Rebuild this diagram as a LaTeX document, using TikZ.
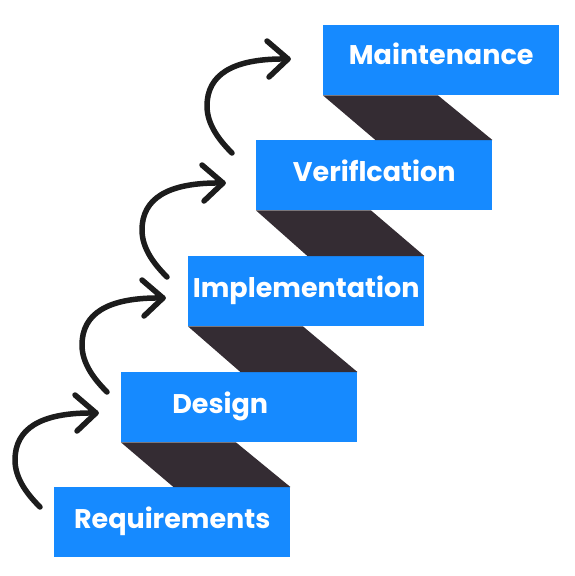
\documentclass[tikz,border=0pt]{standalone}
\usepackage{fontspec}
\setmainfont{Poppins}
\usetikzlibrary{calc}
\definecolor{stepblue}{RGB}{22,138,255}
\definecolor{shade}{RGB}{52,44,51}
\definecolor{ink}{RGB}{28,28,28}
\begin{document}
\begin{tikzpicture}[x=1pt,y=-1pt,
  stepbox/.style={fill=stepblue, draw=none, anchor=north west, minimum width=236pt,
    minimum height=70pt, inner sep=0pt, text=white, text height=19pt, text depth=6pt,
    font=\fontsize{27}{31}\selectfont\bfseries},
  shadowfill/.style={fill=shade, draw=none},
  curvy/.style={draw=ink, line width=5.5pt, line cap=round, line join=round}]
\useasboundingbox (0,0) rectangle (575,576);

% boxes
\node[stepbox] (R) at (54,487)  {Requirements};
\node[stepbox] (D) at (121,372) {Design\hspace*{38pt}};
\node[stepbox] (I) at (188,256) {Implementation};
\node[stepbox] (V) at (256,140) {Veriflcation};
\node[stepbox, text depth=10pt] (M) at (323,25)  {Maintenance};

% shadows
\foreach \u/\l in {D/R, I/D, V/I, M/V}{
  \fill[shadowfill] (\u.south west) -- ($(\u.south west)+(115,0)$) -- (\l.north east) -- ($(\l.north east)+(-117,0)$) -- cycle;
}

% arrows
\foreach \sx/\sy/\n in {40/507/1, 107/392/2, 167/277/3, 232/153/4}{
  \begin{scope}[shift={(\sx,\sy)}]
    \coordinate (s\n) at (0,0);
    \coordinate (t\n) at (56,-94);
    \draw[curvy] (s\n) .. controls (-12,-12) and (-25,-28) .. (-25,-47)
                 .. controls (-25,-78) and (0,-95) .. (t\n);
    \draw[curvy] ($(t\n)+(-21,-18)$) -- (t\n) -- ($(t\n)+(-19,18)$);
  \end{scope}
}
\end{tikzpicture}
\end{document}
